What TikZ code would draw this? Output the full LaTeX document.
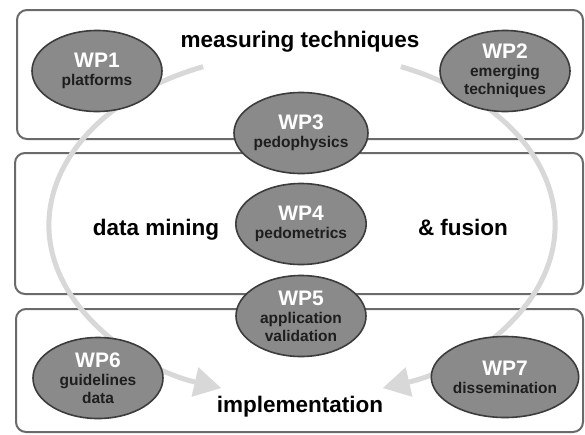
\documentclass[tikz,border=0pt]{standalone}
\usepackage{fontspec}
\setmainfont{Liberation Sans}
\usetikzlibrary{shapes.geometric,arrows.meta}
\definecolor{boxline}{HTML}{6A6A6A}
\definecolor{wpfill}{HTML}{8A8A8A}
\definecolor{wpline}{HTML}{3C3C3C}
\definecolor{flowgray}{HTML}{D8D8D8}
\definecolor{subtext}{HTML}{1E1E1E}
% work-package number, set large and white
\newcommand\wpnum[1]{{\fontsize{21}{18}\selectfont\color{white}#1}}
\begin{document}
\begin{tikzpicture}[x=1pt,y=1pt,
  panel/.style={draw=boxline, line width=2pt, rounded corners=10pt, fill=white},
  wp/.style={ellipse, draw=wpline, line width=1.6pt, fill=wpfill,
    minimum width=130pt, minimum height=81pt, inner sep=0pt, align=center,
    text=subtext, font=\fontsize{15.5}{18}\selectfont\bfseries},
  title/.style={font=\fontsize{22.5}{27}\selectfont\bfseries, text=black,
    anchor=base, inner sep=0pt},
  flow/.style={draw=flowgray, line width=5pt,
    -{Triangle[length=27pt,width=29pt]}}]
  \useasboundingbox[fill=white] (0,0) rectangle (585,-434);

  % three layers
  \draw[panel] (17,-10) rectangle (583,-139);
  \draw[panel] (15,-153) rectangle (583,-294);
  \draw[panel] (16,-309) rectangle (583,-432);

  \node[title] (tmeas) at (300,-47) {measuring techniques};
  \node[title] (tmine) at (156,-235) {data mining};
  \node[title] (tfuse) at (463,-235) {\& fusion};
  \node[title] (timpl) at (300,-412) {implementation};

  % flow from measuring down to implementation, on both sides
  \coordinate (flowL) at (203.1,-66.7);
  \coordinate (flowR) at (400.9,-66.7);
  \draw[flow] (flowL) arc[start angle=113, end angle=251.4, x radius=253, y radius=172];
  \draw[flow] (flowR) arc[start angle=67, end angle=-71.4, x radius=253, y radius=172];

  % work packages
  \node[wp] (wp1) at (97,-71)  {\wpnum{WP1}\\platforms};
  \node[wp] (wp2) at (505,-71) {\wpnum{WP2}\\emerging\\techniques};
  \node[wp] (wp3) at (301,-133) {\wpnum{WP3}\\pedophysics};
  \node[wp] (wp4) at (301,-224) {\wpnum{WP4}\\pedometrics};
  \node[wp] (wp5) at (301,-316) {\wpnum{WP5}\\application\\validation};
  \node[wp] (wp6) at (98,-378) {\wpnum{WP6}\\guidelines\\data};
  \node[wp] (wp7) at (505,-377) {\wpnum{WP7}\\dissemination};
\end{tikzpicture}
\end{document}
